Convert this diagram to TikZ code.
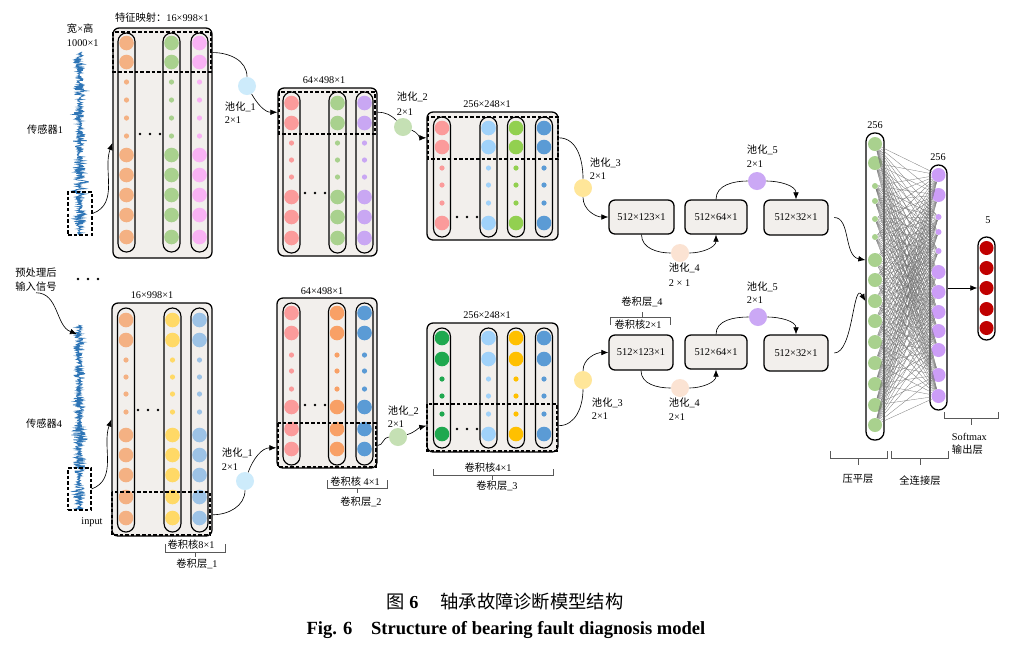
\documentclass[tikz,border=0pt]{standalone}
\usepackage{fontspec}
\setmainfont{Liberation Serif}
\newfontfamily\cjk{Noto Sans CJK SC}
\newcommand\zh[1]{{\cjk #1}}
\usetikzlibrary{arrows.meta}

\definecolor{boxfill}{HTML}{F2EFEC}
\definecolor{corange}{HTML}{F4B183}
\definecolor{cgreen}{HTML}{A9D18E}
\definecolor{cpink}{HTML}{F9B2F4}
\definecolor{crose}{HTML}{FB9B9B}
\definecolor{clav}{HTML}{C9A7F3}
\definecolor{csky}{HTML}{A0D2FA}
\definecolor{clime}{HTML}{92D050}
\definecolor{cblue}{HTML}{5B9BD5}
\definecolor{cyellow}{HTML}{FFD966}
\definecolor{clblue}{HTML}{9DC3E6}
\definecolor{cdorange}{HTML}{F8A066}
\definecolor{cdgreen}{HTML}{1FA84F}
\definecolor{cgold}{HTML}{FFC000}
\definecolor{pool1}{HTML}{CDEBFB}
\definecolor{pool2}{HTML}{C5E0B4}
\definecolor{pool3}{HTML}{FFE699}
\definecolor{pool4}{HTML}{FBE3D3}
\definecolor{pool5}{HTML}{CBA8F5}
\definecolor{cfc}{HTML}{CC9DF7}
\definecolor{cred}{HTML}{C00000}
\definecolor{wave}{HTML}{2E75B6}

\begin{document}
\begin{tikzpicture}[x=0.025cm, y=-0.025cm, >={Latex[length=5pt,width=4pt]},
  lbl/.style={font=\fontsize{7.3}{10}\selectfont, inner sep=0.5pt},
  fmap/.style={draw, line width=0.9pt, rounded corners=0.15cm, fill=boxfill, inner sep=0pt, font=\fontsize{7.4}{9}\selectfont},
  fcol/.style={draw, line width=0.8pt, rounded corners=0.21cm},
  kwin/.style={draw, line width=0.8pt, dash pattern=on 2.5pt off 1.5pt, inner sep=0pt},
  pool/.style={circle, inner sep=0pt, minimum size=18*0.025cm},
  neuron/.style={circle, inner sep=0pt},
  lyr/.style={draw, line width=0.9pt, rounded corners=0.21cm, fill=white, inner sep=0pt},
  cline/.style={line width=0.45pt},
  wire/.style={draw=black!55, line width=0.2pt},
  brk/.style={draw=black!65, line width=0.6pt},
  wavy/.style={draw=wave, line width=0.55pt}]
\def \pix {0.025cm}

\fill[white] (0,0) rectangle (1019,647);
\useasboundingbox (0,0) rectangle (1019,647);

% input signals
\pgfmathsetseed{11}
\draw[wavy] plot[variable=\t, domain=52:235, samples=420]
  ({80+(2*rnd-1)*(2.5+4.5*abs(sin(\t*7))^3+7/(1+((\t-182)/3)^2))}, \t);
\pgfmathsetseed{23}
\draw[wavy] plot[variable=\t, domain=325:510, samples=420]
  ({79+(2*rnd-1)*(2.5+4.5*abs(sin(\t*6))^3+6/(1+((\t-440)/3)^2))}, \t);
\node[kwin, minimum width=24*\pix, minimum height=43*\pix] (w1) at (80,213.5) {};
\node[kwin, minimum width=23*\pix, minimum height=42*\pix] (w4) at (79.5,489) {};
\node[lbl, anchor=west] at (66,29) {\zh{宽}×\zh{高}};
\node[lbl, anchor=west] at (66,43) {1000×1};
\node[lbl] at (45,130) {\zh{传感器}1};
\node[lbl] at (44,424) {\zh{传感器}4};
\node[lbl, align=left] (pre) at (36,280) {\zh{预处理后}\\\zh{输入信号}};
\node[lbl] at (92,522) {input};
\coordinate (s4) at (77,334);
\draw[cline, ->] (pre.south) to[out=0, in=160] (s4);
\foreach \x in {78,88,98} \fill (\x,279) circle[radius=1.3*\pix];

% upper branch, convolution 1
\node[fmap, minimum width=99*\pix, minimum height=230*\pix] (a1) at (162.5,143) {};
\node[lbl] at (162,18) {\zh{特征映射：}16×998×1};
\foreach \x/\col in {126.5/corange, 171.5/cgreen, 199.5/cpink} {
  \draw[fcol] (\x-8.5,33) rectangle (\x+8.5,252);
  \foreach \y in {43,62,155,175,195,215,237} \fill[\col] (\x,\y) circle[radius=7.3*\pix];
  \foreach \y in {82,100,118,136} \fill[\col] (\x,\y) circle[radius=2.6*\pix];
}
\foreach \x in {140,150,160} \fill (\x,134) circle[radius=1.3*\pix];
\draw[kwin] (113,32) rectangle (211,72);

% upper branch, convolution 2
\node[fmap, minimum width=99*\pix, minimum height=168*\pix] (a2) at (327.5,172) {};
\node[lbl] at (324,80) {64×498×1};
\foreach \x/\col in {291.5/crose, 337.5/cgreen, 364.5/clav} {
  \draw[fcol] (\x-8.5,92) rectangle (\x+8.5,253);
  \foreach \y in {103,123,197,217,238} \fill[\col] (\x,\y) circle[radius=7.3*\pix];
  \foreach \y in {143,160,177} \fill[\col] (\x,\y) circle[radius=2.6*\pix];
}
\foreach \x in {305,315,325} \fill (\x,193) circle[radius=1.3*\pix];
\draw[kwin] (279,92) rectangle (375,134);

% upper branch, convolution 3
\node[fmap, minimum width=131*\pix, minimum height=128*\pix] (a3) at (492.5,176) {};
\node[lbl] at (487,104) {256×248×1};
\foreach \x/\col in {442/crose, 488.5/csky, 516/clime, 544/cblue} {
  \draw[fcol] (\x-8.5,117) rectangle (\x+8.5,237);
  \foreach \y in {128,147,223} \fill[\col] (\x,\y) circle[radius=7.3*\pix];
  \foreach \y in {168,185,203} \fill[\col] (\x,\y) circle[radius=2.6*\pix];
}
\foreach \x in {457,467,477} \fill (\x,217) circle[radius=1.3*\pix];
\draw[kwin] (428,117) rectangle (558,159);

% upper branch, convolution 4 and pooling
\node[fmap, minimum width=65*\pix, minimum height=34*\pix] (a4) at (641.5,217) {512×123×1};
\node[fmap, minimum width=62*\pix, minimum height=34*\pix] (a5) at (716,217) {512×64×1};
\node[fmap, minimum width=64*\pix, minimum height=35*\pix] (a6) at (796,217.5) {512×32×1};

\node[pool, fill=pool1] (pa1) at (247,86) {};
\node[pool, fill=pool2] (pa2) at (403,127) {};
\node[pool, fill=pool3] (pa3) at (583,188) {};
\node[pool, fill=pool4] (pa4) at (680,253) {};
\node[pool, fill=pool5] (pa5) at (757,181) {};
\node[lbl, anchor=west] at (224,107) {\zh{池化}\_1};
\node[lbl, anchor=west] at (224,120) {2×1};
\node[lbl, anchor=west] at (396,97) {\zh{池化}\_2};
\node[lbl, anchor=west] at (396,112) {2×1};
\node[lbl, anchor=west] at (589,163) {\zh{池化}\_3};
\node[lbl, anchor=west] at (589,176) {2×1};
\node[lbl, anchor=west] at (668,268) {\zh{池化}\_4};
\node[lbl, anchor=west] at (668,283) {2 × 1};
\node[lbl, anchor=west] at (746,150) {\zh{池化}\_5};
\node[lbl, anchor=west] at (746,164) {2×1};

\draw[cline, ->] (w1.east) to[out=20, in=-110] (a1.west);
\draw[cline] (a1.61) to[out=0, in=90] (pa1);
\draw[cline, ->] (pa1) to[out=-60, in=180] (a2.130);
\draw[cline] (a2.50) to[out=0, in=135] (pa2);
\draw[cline, ->] (pa2) to[out=-20, in=180] (a3.150);
\draw[cline] (a3.30) to[out=0, in=90] (pa3);
\draw[cline, ->] (pa3) to[out=-90, in=180] (a4.west);
\draw[cline] (a4.south) to[out=-90, in=180] (pa4);
\draw[cline, ->] (pa4) to[out=0, in=-90] (a5.south);
\draw[cline] (a5.north) to[out=90, in=180] (pa5);
\draw[cline, ->] (pa5) to[out=0, in=90] (a6.north);

% lower branch, convolution 1
\node[fmap, minimum width=100*\pix, minimum height=233*\pix] (b1) at (162,419.5) {};
\node[lbl] at (152,295) {16×998×1};
\foreach \x/\col in {126/corange, 172.5/cyellow, 199.5/clblue} {
  \draw[fcol] (\x-8.5,308) rectangle (\x+8.5,532);
  \foreach \y in {320,340,435,455,475,497,518} \fill[\col] (\x,\y) circle[radius=7.3*\pix];
  \foreach \y in {360,377,394,412} \fill[\col] (\x,\y) circle[radius=2.6*\pix];
}
\foreach \x in {138,148,158} \fill (\x,410) circle[radius=1.3*\pix];
\draw[kwin] (112,492) rectangle (210,535);

% lower branch, convolution 2
\node[fmap, minimum width=100*\pix, minimum height=170*\pix] (b2) at (327,383) {};
\node[lbl] at (322,291) {64×498×1};
\foreach \x/\col in {291.5/crose, 337/cdorange, 364.5/cblue} {
  \draw[fcol] (\x-8.5,303) rectangle (\x+8.5,465);
  \foreach \y in {313,333,407,429,449} \fill[\col] (\x,\y) circle[radius=7.3*\pix];
  \foreach \y in {355,371,389} \fill[\col] (\x,\y) circle[radius=2.6*\pix];
}
\foreach \x in {305,315,325} \fill (\x,405) circle[radius=1.3*\pix];
\draw[kwin] (278,423) rectangle (376,467);

% lower branch, convolution 3
\node[fmap, minimum width=131*\pix, minimum height=129*\pix] (b3) at (492.5,387.5) {};
\node[lbl] at (487,315) {256×248×1};
\foreach \x/\col in {442/cdgreen, 488.5/csky, 516/cgold, 544/cblue} {
  \draw[fcol] (\x-8.5,328) rectangle (\x+8.5,448);
  \foreach \y in {338,359,434} \fill[\col] (\x,\y) circle[radius=7.3*\pix];
  \foreach \y in {379,396,414} \fill[\col] (\x,\y) circle[radius=2.6*\pix];
}
\foreach \x in {457,467,477} \fill (\x,429) circle[radius=1.3*\pix];
\draw[kwin] (427,404) rectangle (557,451);

% lower branch, convolution 4 and pooling
\node[fmap, minimum width=64*\pix, minimum height=35*\pix] (b4) at (641,352.5) {512×123×1};
\node[fmap, minimum width=62*\pix, minimum height=34*\pix] (b5) at (716,352) {512×64×1};
\node[fmap, minimum width=64*\pix, minimum height=36*\pix] (b6) at (796,353) {512×32×1};

\node[pool, fill=pool1] (pb1) at (245,481) {};
\node[pool, fill=pool2] (pb2) at (398,437) {};
\node[pool, fill=pool3] (pb3) at (583,380) {};
\node[pool, fill=pool4] (pb4) at (680,388) {};
\node[pool, fill=pool5] (pb5) at (758,317) {};
\node[lbl, anchor=west] at (221,453) {\zh{池化}\_1};
\node[lbl, anchor=west] at (221,467) {2×1};
\node[lbl, anchor=west] at (387,411) {\zh{池化}\_2};
\node[lbl, anchor=west] at (387,424) {2×1};
\node[lbl, anchor=west] at (591,403) {\zh{池化}\_3};
\node[lbl, anchor=west] at (591,416) {2×1};
\node[lbl, anchor=west] at (668,403) {\zh{池化}\_4};
\node[lbl, anchor=west] at (668,417) {2×1};
\node[lbl, anchor=west] at (746,287) {\zh{池化}\_5};
\node[lbl, anchor=west] at (746,300) {2×1};

\draw[cline, ->] (w4.east) to[out=20, in=-110] (b1.west);
\draw[cline] (b1.-62) to[out=0, in=-90] (pb1);
\draw[cline, ->] (pb1) to[out=70, in=180] (b2.232);
\draw[cline] (b2.-51) to[out=0, in=180] (pb2);
\draw[cline, ->] (pb2) to[out=15, in=195] (b3.210);
\draw[cline] (b3.-30) to[out=0, in=-90] (pb3);
\draw[cline, ->] (pb3) to[out=90, in=180] (b4.west);
\draw[cline] (b4.south) to[out=-90, in=180] (pb4);
\draw[cline, ->] (pb4) to[out=0, in=-90] (b5.south);
\draw[cline] (b5.north) to[out=90, in=180] (pb5);
\draw[cline, ->] (pb5) to[out=0, in=90] (b6.north);

% kernel brackets
\draw[brk] (165,544) -- (165,552) -- (225,552) -- (225,544) (195,552) -- (195,557);
\node[lbl] at (191,545) {\zh{卷积核}8×1};
\node[lbl] at (197,564) {\zh{卷积层}\_1};
\draw[brk] (327,480) -- (327,488) -- (387,488) -- (387,480) (357,488) -- (357,493);
\node[lbl] at (355,482) {\zh{卷积核} 4×1};
\node[lbl] at (361,502) {\zh{卷积层}\_2};
\draw[brk] (433,469) -- (433,475) -- (553,475) -- (553,469) (492,475) -- (492,480);
\node[lbl] at (488,468) {\zh{卷积核}4×1};
\node[lbl] at (497,486) {\zh{卷积层}\_3};
\draw[brk] (610,325) -- (610,317) -- (670,317) -- (670,325) (642,317) -- (642,312);
\node[lbl] at (638,325) {\zh{卷积核}2×1};
\node[lbl] at (642,302) {\zh{卷积层}\_4};

% flatten, dense and output layers
\node[lyr, minimum width=18*\pix, minimum height=307*\pix] (fl) at (875,286.5) {};
\node[lyr, minimum width=17*\pix, minimum height=245*\pix] (fc) at (938.5,287.5) {};
\node[lyr, minimum width=17*\pix, minimum height=103*\pix] (ot) at (986.5,288.5) {};
\node[lbl] at (875,125) {256};
\node[lbl] at (938,157) {256};
\node[lbl] at (988,220) {5};
\foreach \y/\r [count=\i] in {144/7,163/7,186/3,201/3,219/3,237/3,260/7,280/7,301/7,321/7,342/7,363/7,384/7,405/7,425/7}
  \node[neuron, fill=cgreen, minimum size=2*\r*\pix] (f\i) at (875,\y) {};
\foreach \y/\r [count=\i] in {175/7,195/7,217/3,232/3,251/3,272/7,292/7,312/7,331/7,350/7,375/7,396/7}
  \node[neuron, fill=cfc, minimum size=2*\r*\pix] (c\i) at (938.5,\y) {};
\foreach \y [count=\i] in {248,268,288,309,328}
  \node[neuron, fill=cred, minimum size=14*\pix] (o\i) at (986.5,\y) {};
\foreach \i in {1,...,15}
  \foreach \j in {1,...,12}
    \draw[wire] (f\i) -- (c\j);

\draw[cline, ->, shorten <=4pt] (a6.east) to[out=0, in=170] (fl.west |- f7);
\draw[cline, ->, shorten <=4pt] (b6.east) to[out=0, in=120] (fl.west |- f9);
\draw[cline, ->] (fc.east |- o3) -- (ot.west |- o3);

\draw[brk] (830,451) -- (830,458) -- (887,458) -- (887,451) (858,458) -- (858,465);
\node[lbl] at (858,479) {\zh{压平层}};
\draw[brk] (891,451) -- (891,458) -- (948,458) -- (948,451) (920,458) -- (920,465);
\node[lbl] at (920,481) {\zh{全连接层}};
\draw[brk] (944,412) -- (944,418) -- (998,418) -- (998,412) (971,418) -- (971,425);
\node[lbl, anchor=west] at (951,437) {Softmax};
\node[lbl, anchor=west] at (951,450) {\zh{输出层}};

% caption
\node[font=\fontsize{13}{15}\selectfont] (cap1) at (505,602) {\zh{图} \textbf{6}\hspace{1.2em}\zh{轴承故障诊断模型结构}};
\node[font=\bfseries\fontsize{13.2}{15}\selectfont] (cap2) at (506,630) {Fig. 6\hspace{1em}Structure of bearing fault diagnosis model};
\end{tikzpicture}
\end{document}
